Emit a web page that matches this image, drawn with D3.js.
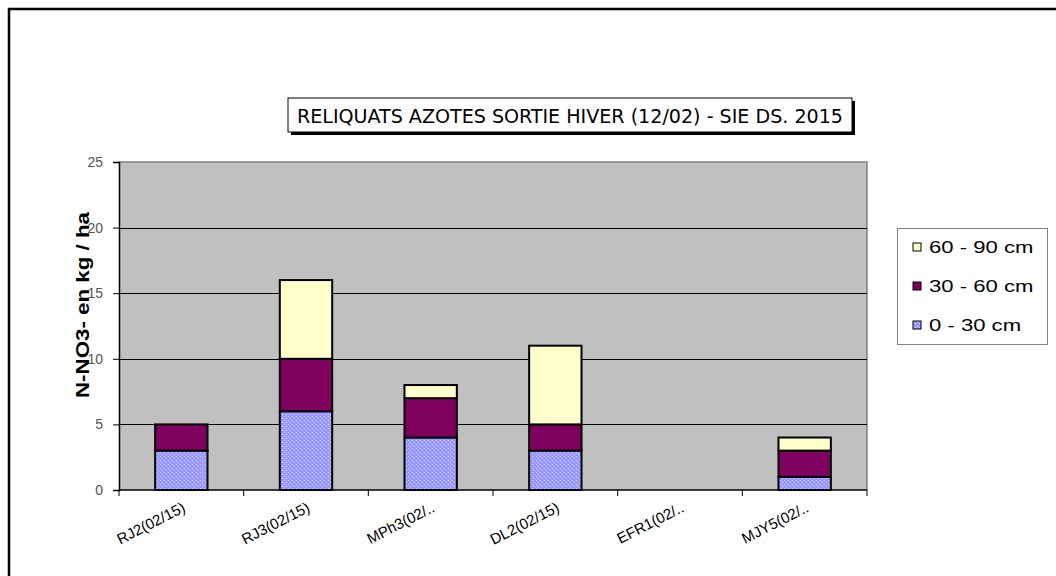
<!DOCTYPE html>
<html>
<head>
<meta charset="utf-8">
<script src="https://cdn.jsdelivr.net/npm/d3@7"></script>
<style>
  body { margin: 0; background: #fff; }
  svg { display: block; font-family: "Liberation Sans", Arial, sans-serif; }
</style>
</head>
<body>
<script>
'use strict';

// chart data
const categories = ["RJ2(02/15)", "RJ3(02/15)", "MPh3(02/..", "DL2(02/15)", "EFR1(02/..", "MJY5(02/.."];
const layers = ["0 - 30 cm", "30 - 60 cm", "60 - 90 cm"];
const v0_30 = [3, 6, 4, 3, 0, 1];
const v30_60 = [2, 4, 3, 2, 0, 2];
const v60_90 = [0, 6, 1, 6, 0, 1];
const yTicks = [0, 5, 10, 15, 20, 25];
const titleText = "RELIQUATS AZOTES SORTIE HIVER (12/02) - SIE DS. 2015";
const yLabel = "N-NO3- en kg / ha";

(function() {
  const width = 1056, height = 576;
  const plot = {left: 119, right: 867, top: 162, bottom: 490};

  const svg = d3.select('body').append('svg')
    .attr('width', width)
    .attr('height', height);

  // pattern for the 0-30 cm layer
  const defs = svg.append('defs');
  const pat = defs.append('pattern')
    .attr('id', 'dots')
    .attr('width', 4).attr('height', 4)
    .attr('patternUnits', 'userSpaceOnUse');
  pat.append('rect').attr('width', 4).attr('height', 4).attr('fill', '#9999ff');
  pat.append('rect').attr('x', 0).attr('y', 0).attr('width', 1).attr('height', 1).attr('fill', '#d8d8ff');
  pat.append('rect').attr('x', 2).attr('y', 2).attr('width', 1).attr('height', 1).attr('fill', '#d8d8ff');

  // outer frame (only top and left visible)
  svg.append('path')
    .attr('d', 'M9,' + height + ' L9,9 L' + width + ',9')
    .attr('fill', 'none')
    .attr('stroke', '#000')
    .attr('stroke-width', 2.5);

  const x = d3.scaleBand()
    .domain(categories)
    .range([plot.left, plot.right])
    .paddingInner(0.58)
    .paddingOuter(0.29);

  const y = d3.scaleLinear()
    .domain([0, 25])
    .range([plot.bottom, plot.top]);

  // plot area background
  svg.append('rect')
    .attr('x', plot.left).attr('y', plot.top)
    .attr('width', plot.right - plot.left)
    .attr('height', plot.bottom - plot.top)
    .attr('fill', '#c0c0c0');
  svg.append('path')
    .attr('d', 'M' + plot.left + ',' + plot.top + ' L' + plot.right + ',' + plot.top + ' L' + plot.right + ',' + plot.bottom)
    .attr('fill', 'none')
    .attr('stroke', '#808080')
    .attr('stroke-width', 1.5);

  // gridlines
  svg.append('g')
    .selectAll('line')
    .data(yTicks.filter((d) => d > 0 && d < 25))
    .enter().append('line')
    .attr('x1', plot.left).attr('x2', plot.right)
    .attr('y1', (d) => Math.round(y(d)) + 0.5)
    .attr('y2', (d) => Math.round(y(d)) + 0.5)
    .attr('stroke', '#000')
    .attr('stroke-width', 1);

  // stacked bars
  const rows = categories.map((c, i) => ({cat: c, a: v0_30[i], b: v30_60[i], c: v60_90[i]}));
  const stack = d3.stack().keys(['a', 'b', 'c'])(rows);
  const fills = ['url(#dots)', '#800060', '#ffffcc'];

  stack.forEach((layer, li) => {
    svg.append('g')
      .selectAll('rect')
      .data(layer.filter((d) => d[1] - d[0] > 0))
      .enter().append('rect')
      .attr('x', (d) => x(d.data.cat))
      .attr('width', x.bandwidth())
      .attr('y', (d) => y(d[1]))
      .attr('height', (d) => y(d[0]) - y(d[1]))
      .attr('fill', fills[li])
      .attr('stroke', '#000')
      .attr('stroke-width', 2);
  });

  // y axis
  const yAxis = d3.axisLeft(y).tickValues(yTicks).tickSize(6).tickPadding(10);
  const gy = svg.append('g')
    .attr('transform', 'translate(' + plot.left + ',0)')
    .call(yAxis);
  gy.select('.domain').attr('stroke', '#000').attr('stroke-width', 1.5);
  gy.selectAll('text')
    .style('font-size', '14px')
    .attr('fill', '#555');

  // x axis
  const xTickPos = d3.range(categories.length + 1).map((i) => plot.left + i * (plot.right - plot.left) / categories.length);
  svg.append('line')
    .attr('x1', plot.left).attr('x2', plot.right)
    .attr('y1', plot.bottom).attr('y2', plot.bottom)
    .attr('stroke', '#000').attr('stroke-width', 1.5);
  svg.append('g')
    .selectAll('line')
    .data(xTickPos)
    .enter().append('line')
    .attr('x1', (d) => d).attr('x2', (d) => d)
    .attr('y1', plot.bottom).attr('y2', plot.bottom + 6)
    .attr('stroke', '#000');

  svg.append('g')
    .selectAll('text')
    .data(categories)
    .enter().append('text')
    .attr('transform', (d) => 'translate(' + (x(d) + x.bandwidth() / 2 + 5) + ',' + (plot.bottom + 21) + ') rotate(-27)')
    .attr('text-anchor', 'end')
    .style('font-size', '15px')
    .attr('fill', '#000')
    .text((d) => d);

  // y label
  svg.append('text')
    .attr('transform', 'translate(89,305) rotate(-90)')
    .attr('text-anchor', 'middle')
    .attr('textLength', 186)
    .attr('lengthAdjust', 'spacingAndGlyphs')
    .style('font-size', '19px')
    .style('font-weight', 'bold')
    .text(yLabel);

  // title box with shadow
  svg.append('rect')
    .attr('x', 291).attr('y', 101).attr('width', 564).attr('height', 34)
    .attr('fill', '#000');
  svg.append('rect')
    .attr('x', 288).attr('y', 98).attr('width', 564).attr('height', 34)
    .attr('fill', '#fff')
    .attr('stroke', '#000')
    .attr('stroke-width', 1);
  svg.append('text')
    .attr('x', 297).attr('y', 123)
    .attr('textLength', 546)
    .attr('lengthAdjust', 'spacingAndGlyphs')
    .style('font-family', '"DejaVu Sans Condensed", "DejaVu Sans", sans-serif')
    .style('font-size', '20px')
    .text(titleText);

  // legend
  svg.append('rect')
    .attr('x', 897.5).attr('y', 228.5).attr('width', 150).attr('height', 116)
    .attr('fill', '#fff')
    .attr('stroke', '#808080');
  const legendOrder = [2, 1, 0];
  const lg = svg.append('g')
    .selectAll('g')
    .data(legendOrder)
    .enter().append('g')
    .attr('transform', (d, i) => 'translate(913,' + (247 + i * 39) + ')');
  lg.append('rect')
    .attr('x', 0).attr('y', -4).attr('width', 8).attr('height', 8)
    .attr('fill', (d) => fills[d])
    .attr('stroke', '#000');
  lg.append('text')
    .attr('transform', 'translate(16,6) scale(1.3,1)')
    .style('font-size', '17px')
    .text((d) => layers[d]);
})();
</script>
</body>
</html>
